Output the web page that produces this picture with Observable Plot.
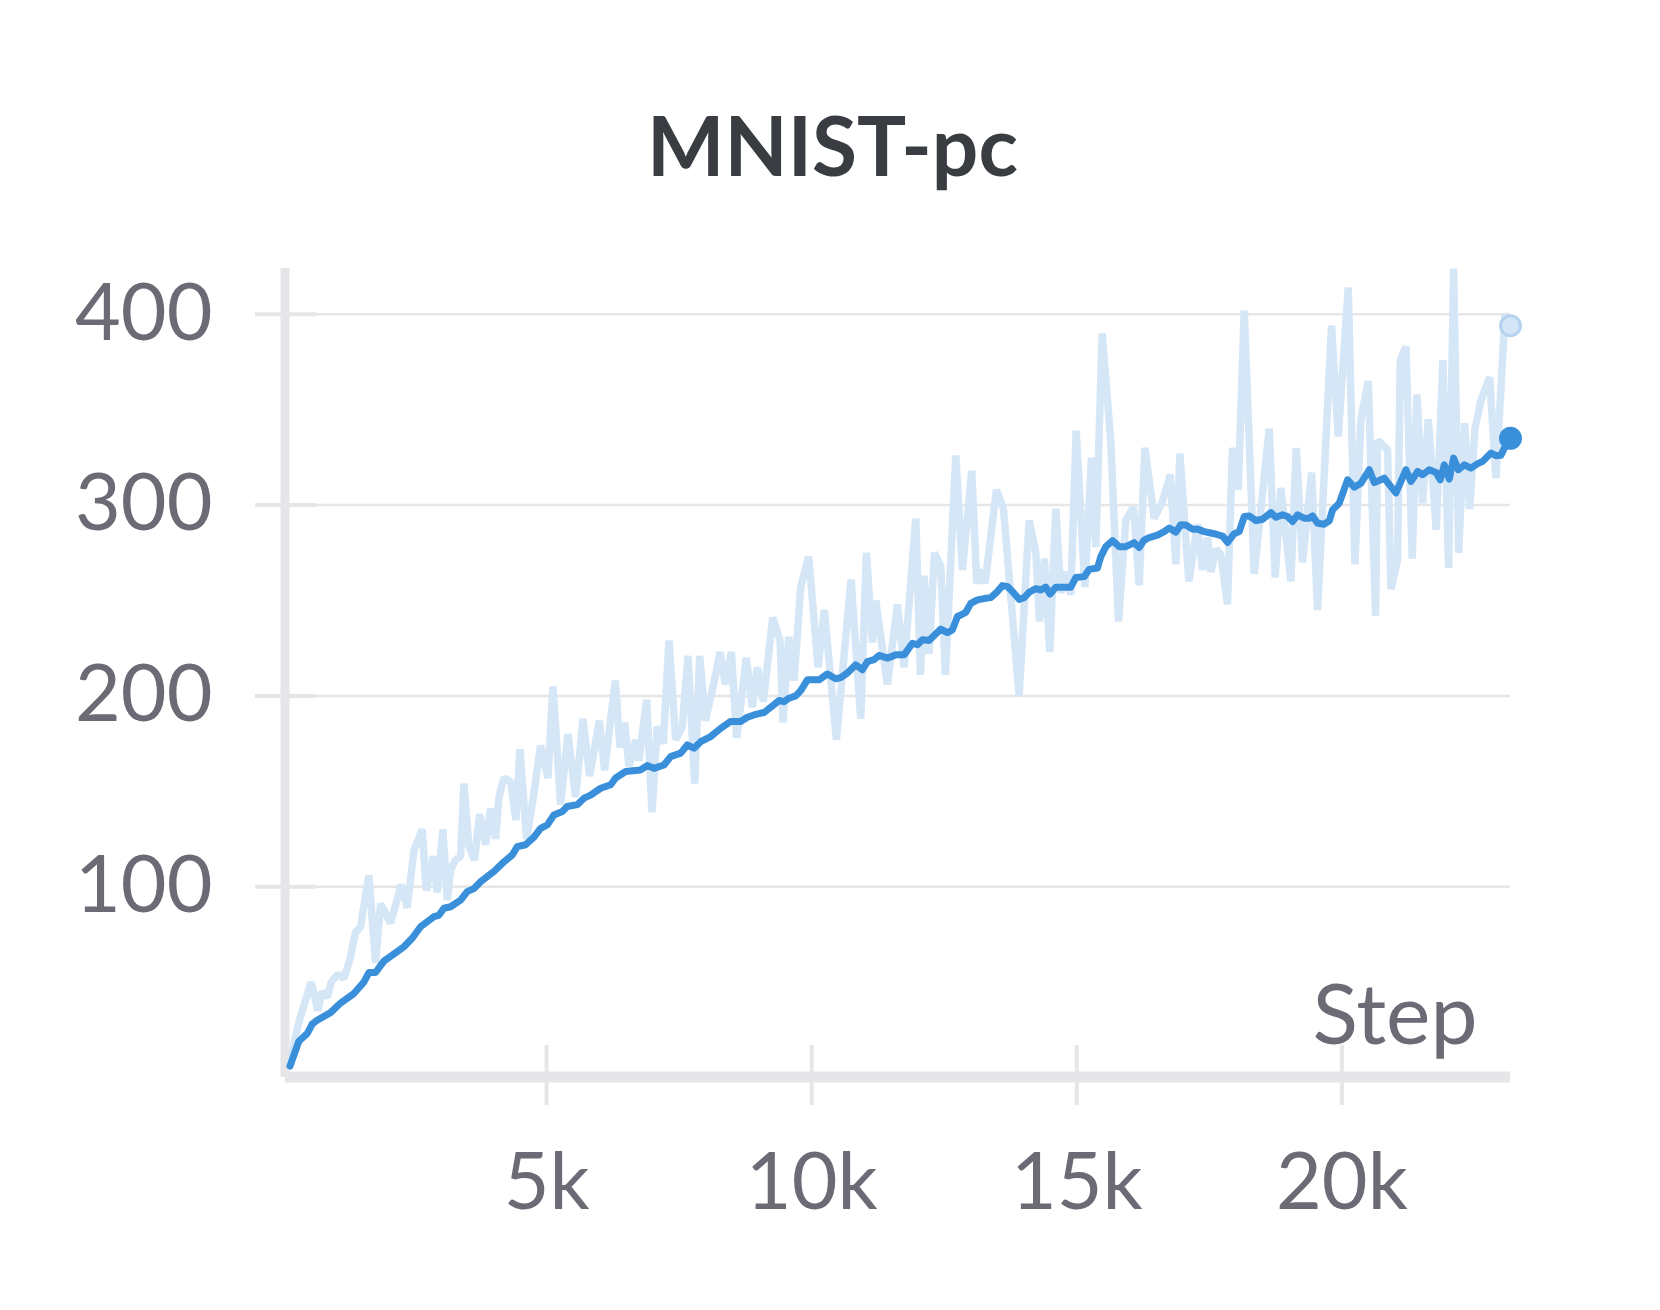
<!DOCTYPE html>
<html><head><meta charset="utf-8">
<script src="https://cdn.jsdelivr.net/npm/d3@7"></script>
<script src="https://cdn.jsdelivr.net/npm/@observablehq/plot@0.6"></script>
<style>
html,body{margin:0;padding:0;background:#fff;}
#chart{width:1660px;height:1310px;}
</style></head><body><div id="chart"></div>
<script>
const title = "MNIST-pc";
const xLabel = "Step";
const rawSteps = [160,260,358,560,686,767,862,937,1063,1176,1283,1396,1491,1648,1774,1868,2057,2258,2371,2497,2654,2730,2862,2937,3044,3126,3189,3283,3378,3440,3535,3642,3736,3850,3944,4038,4101,4195,4321,4422,4497,4623,4761,4887,5025,5120,5264,5403,5547,5686,5811,5994,6094,6296,6384,6472,6554,6679,6742,6887,6988,7088,7202,7308,7434,7560,7667,7793,7887,7994,8158,8271,8372,8485,8585,8767,8881,8975,9088,9264,9403,9459,9566,9667,9793,9944,10120,10239,10466,10742,10925,11032,11145,11208,11428,11617,11742,11963,12051,12120,12214,12315,12434,12522,12717,12843,13019,13113,13220,13270,13484,13617,13912,14101,14227,14296,14390,14491,14604,14698,14793,14887,14988,15152,15277,15359,15478,15642,15786,15925,16070,16177,16284,16460,16617,16762,16869,16944,17113,17277,17371,17466,17529,17623,17717,17843,17937,18044,18158,18346,18629,18742,18850,19038,19139,19258,19428,19541,19805,19931,20120,20246,20359,20497,20636,20673,20862,20925,21050,21101,21208,21327,21415,21522,21629,21780,21906,22013,22107,22202,22315,22409,22510,22623,22787,22906,23076,23180];
const rawValues = [6,21,32,50,35,45,42,50,54,52,61,76,79,106,60,91,81,101,89,119,130,98,116,97,130,93,109,114,116,154,121,114,138,122,141,125,147,157,155,135,172,125,149,174,157,205,143,180,147,188,158,187,161,208,173,186,163,177,166,198,139,184,175,229,177,184,221,154,221,187,207,223,206,223,178,220,194,215,197,241,229,186,231,208,257,273,215,245,177,261,188,275,228,250,206,248,215,293,211,263,222,275,268,211,326,266,318,259,266,259,308,298,200,292,275,239,272,223,298,254,265,253,339,257,325,278,390,333,239,292,299,258,330,293,302,316,269,327,260,290,266,283,265,277,274,248,330,308,402,264,340,262,309,260,330,270,317,245,394,336,414,269,345,365,242,334,329,256,271,376,383,272,358,301,345,287,376,267,424,275,343,298,340,355,367,314,400,394];
const smoothSteps = [160,327,484,579,673,925,1113,1365,1553,1648,1774,1931,2182,2308,2465,2623,2748,2874,2968,3063,3189,3378,3503,3629,3755,3912,4006,4195,4352,4447,4604,4761,4887,5013,5138,5296,5390,5579,5705,5831,6019,6208,6302,6491,6774,6900,7025,7214,7340,7529,7654,7780,7906,8095,8283,8472,8660,8786,8912,9101,9227,9384,9478,9572,9698,9793,9918,10139,10296,10453,10547,10673,10830,10956,11051,11176,11271,11428,11585,11743,11900,11994,12089,12214,12434,12560,12654,12749,12811,12906,13000,13126,13252,13378,13472,13598,13692,13786,13912,14007,14101,14227,14321,14415,14497,14604,14887,14982,15139,15233,15390,15453,15548,15673,15799,15925,16082,16177,16271,16365,16523,16648,16743,16869,16962,17057,17183,17277,17403,17591,17749,17843,17969,18063,18158,18252,18378,18504,18661,18755,18881,18975,19070,19164,19290,19384,19447,19541,19667,19761,19824,19950,20107,20233,20359,20516,20611,20799,20925,21019,21208,21302,21428,21522,21648,21774,21856,21931,22025,22107,22195,22309,22434,22560,22654,22812,22906,23000,23095,23180];
const smoothValues = [6,19,23,28,30,34,39,44,50,55,55,61,66,68.5,73,79,81.6,84.3,85,88.7,89.5,93,97.4,99,102.6,106,108,113,116.6,121,122,126,130.6,132.4,137.6,139.4,142,143,146.4,148,151.6,153.4,157,160.4,161.2,163.5,162,163.8,168.2,170,174.3,172.6,176,178.7,183,186.6,186.6,188.8,190,191.3,194,197.6,197,198.8,200,202.8,208.4,208.4,211.5,209,209.6,212,216.3,213.7,218,219,221.2,219.8,221.5,221.5,227.6,226.8,229.4,229,235,233.2,234.6,241.6,242.4,243.8,248.5,250.3,251,251.5,253.8,257.8,257.3,254.7,250.6,251.5,254.3,256.2,255.5,257,253.4,257,257,262,262.5,266.3,267,273,278.2,281.4,278.2,278.2,280.3,277.8,281.7,283,284.3,286.1,288,285.8,289.7,289.6,287.4,287.4,286.1,285,283.8,280.4,285,286.1,294,294.3,291.9,292.6,296.1,293.6,294.9,294,291.4,294.9,293.1,293.1,294.3,290.5,290,291.7,297.5,301,313.2,309.4,311.5,318.5,311.8,314.1,309.7,306.4,318.5,312.4,317.6,315.9,318.5,317.1,313.3,321.1,313.6,324.6,318.5,321.1,319.4,321.7,322.9,327.3,325.9,326.1,331.6,335];
const yTicks = [100,200,300,400];
const xTicks = [5000,10000,15000,20000];
const xTickLabels = ["5k","10k","15k","20k"];

const W = 1660, H = 1310, mL = 281, mR = 150, mT = 268, mB = 233;
const xMax = 23180, yMax = 424;
const pxX = (W - mL - mR) / xMax;
const pxY = (H - mT - mB) / yMax;

const raw = rawSteps.map((s, i) => ({step: s, value: rawValues[i]}));
const smooth = smoothSteps.map((s, i) => ({step: s, value: smoothValues[i]}));
const axisColor = "#e6e6e9", textColor = "#6b6b76";
const font = "Lato, 'Source Sans Pro', sans-serif";

const chart = Plot.plot({
  width: W, height: H,
  marginLeft: mL, marginRight: mR, marginTop: mT, marginBottom: mB,
  style: {fontFamily: font, background: "white", overflow: "visible"},
  x: {domain: [0, xMax], axis: null},
  y: {domain: [0, yMax], axis: null},
  marks: [
    Plot.ruleY(yTicks, {x1: 35 / pxX, x2: xMax, stroke: "#e6e6e6", strokeWidth: 2.5}),
    Plot.ruleY(yTicks, {x1: -26 / pxX, x2: 35 / pxX, stroke: axisColor, strokeWidth: 4}),
    Plot.ruleX(xTicks, {y1: -28 / pxY, y2: 32 / pxY, stroke: axisColor, strokeWidth: 4}),
    Plot.ruleX([0], {dx: 3.5, stroke: axisColor, strokeWidth: 9}),
    Plot.ruleY([0], {x1: 4 / pxX, x2: xMax, dy: -0.5, stroke: axisColor, strokeWidth: 11}),
    Plot.axisY({ticks: yTicks, tickSize: 0, tickPadding: 69, fontSize: 79, color: textColor, label: null}),
    Plot.axisX({ticks: xTicks, tickFormat: d => xTickLabels[xTicks.indexOf(d)], tickSize: 0, tickPadding: 75, fontSize: 79, color: textColor, label: null}),
    Plot.line(raw, {x: "step", y: "value", stroke: "#d5e6f7", strokeWidth: 7.5, strokeLinejoin: "bevel"}),
    Plot.line(smooth, {x: "step", y: "value", stroke: "#3a8fdb", strokeWidth: 7}),
    Plot.dot(raw.slice(-1), {x: "step", y: "value", r: 10, fill: "#d3e5f7", stroke: "#b5d3f0", strokeWidth: 3}),
    Plot.dot(smooth.slice(-1), {x: "step", y: "value", r: 11.5, fill: "#3a8fdb"}),
    Plot.text([xLabel], {frameAnchor: "bottom-right", dx: -33, dy: -34, textAnchor: "end", lineAnchor: "bottom", fontSize: 84, fill: textColor}),
    Plot.text([title], {frameAnchor: "top", dx: 832 - (mL + (W - mL - mR) / 2), dy: 175 - mT, lineAnchor: "bottom", fontSize: 82, fontWeight: 700, fill: "#393c41"})
  ]
});
document.getElementById("chart").appendChild(chart);
</script>
</body></html>
